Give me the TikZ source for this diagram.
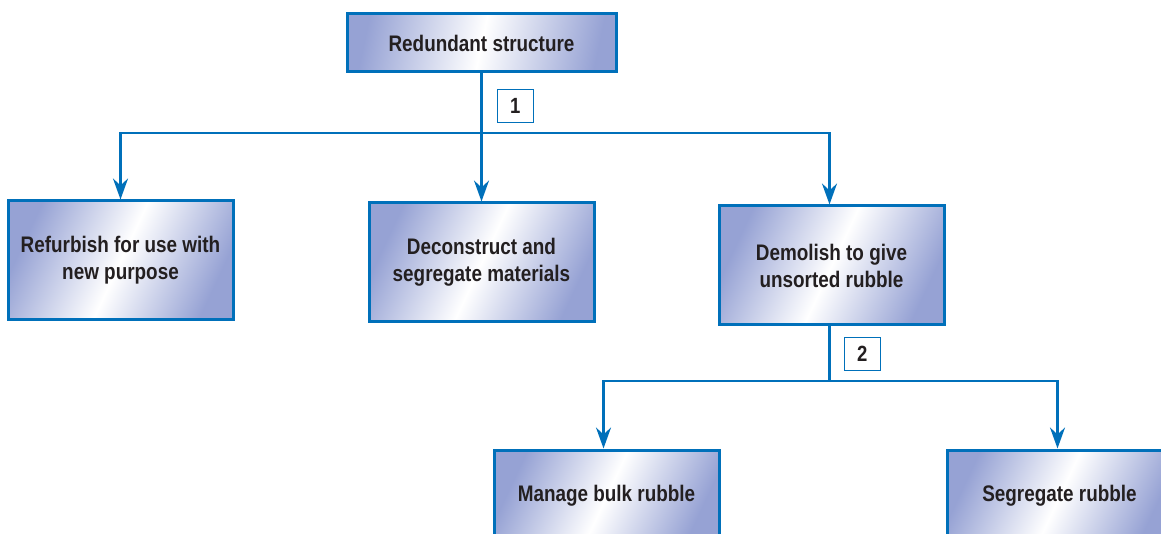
\documentclass[tikz,border=0pt]{standalone}
\usepackage{fontspec}
\setmainfont{Liberation Sans}[FakeStretch=0.84]
\usepackage{tikz}
\usetikzlibrary{arrows.meta, positioning, calc}

\definecolor{lineblue}{RGB}{0,112,186}
\definecolor{shadeblue}{RGB}{150,162,212}
\definecolor{inkblack}{RGB}{35,31,32}

\begin{document}
\begin{tikzpicture}[
      x=1pt, y=-1pt,
      block/.style = {
        draw=lineblue,
        line width=3pt,
        left color=shadeblue,
        right color=shadeblue,
        middle color=white,
        shading angle=65,
        minimum width=225pt,
        minimum height=119pt,
        align=center,
        text=inkblack,
        font=\fontsize{22.5}{27}\selectfont\bfseries
      },
      numbox/.style = {
        draw=lineblue,
        line width=1.5pt,
        fill=white,
        minimum width=36pt,
        minimum height=33pt,
        inner sep=0pt,
        text=inkblack,
        font=\fontsize{22}{24}\selectfont\bfseries
      },
      link/.style = {
        draw=lineblue,
        line width=2.8pt
      },
      tolink/.style = {
        link,
        -{Stealth[length=21pt,width=15pt,inset=7pt]}
      }
    ]

    \useasboundingbox (0,0) rectangle (1161,534);
    \clip (0,0) rectangle (1161,534);

    \node[block, minimum width=269pt, minimum height=58pt, shading angle=78] (redundant) at (481.5,43) {Redundant structure};
    \node[block, below=128pt of redundant]                  (deconstruct) {Deconstruct and\\segregate materials};
    \node[block, left=133pt of deconstruct, yshift=2pt]     (refurbish)   {Refurbish for use with\\new purpose};
    \node[block, right=122pt of deconstruct, yshift=-3pt]   (demolish)    {Demolish to give\\unsorted rubble};
    \node[block, below=122pt of demolish, xshift=-225pt, minimum height=92pt] (manage) {Manage bulk rubble};
    \node[block, right=225pt of manage, minimum height=92pt] (segregate) {Segregate rubble};

    % first split
    \coordinate (split1) at (redundant.south |- 0,133);
    \draw[link] (redundant.south) -- node[numbox, right=15pt, yshift=-3pt] {1} (split1);
    \draw[tolink] (split1) -| (refurbish.north);
    \draw[tolink] (split1) -- (deconstruct.north);
    \draw[tolink] (split1) -| ([xshift=-2pt]demolish.north);

    % second split
    \coordinate (split2) at ([xshift=-2pt]demolish.south |- 0,381);
    \draw[link] ([xshift=-2pt]demolish.south) -- node[numbox, right=14pt] {2} (split2);
    \draw[tolink] (split2) -| ([xshift=-3pt]manage.north);
    \draw[tolink] (split2) -| ([xshift=-2pt]segregate.north);

  \end{tikzpicture}
\end{document}
